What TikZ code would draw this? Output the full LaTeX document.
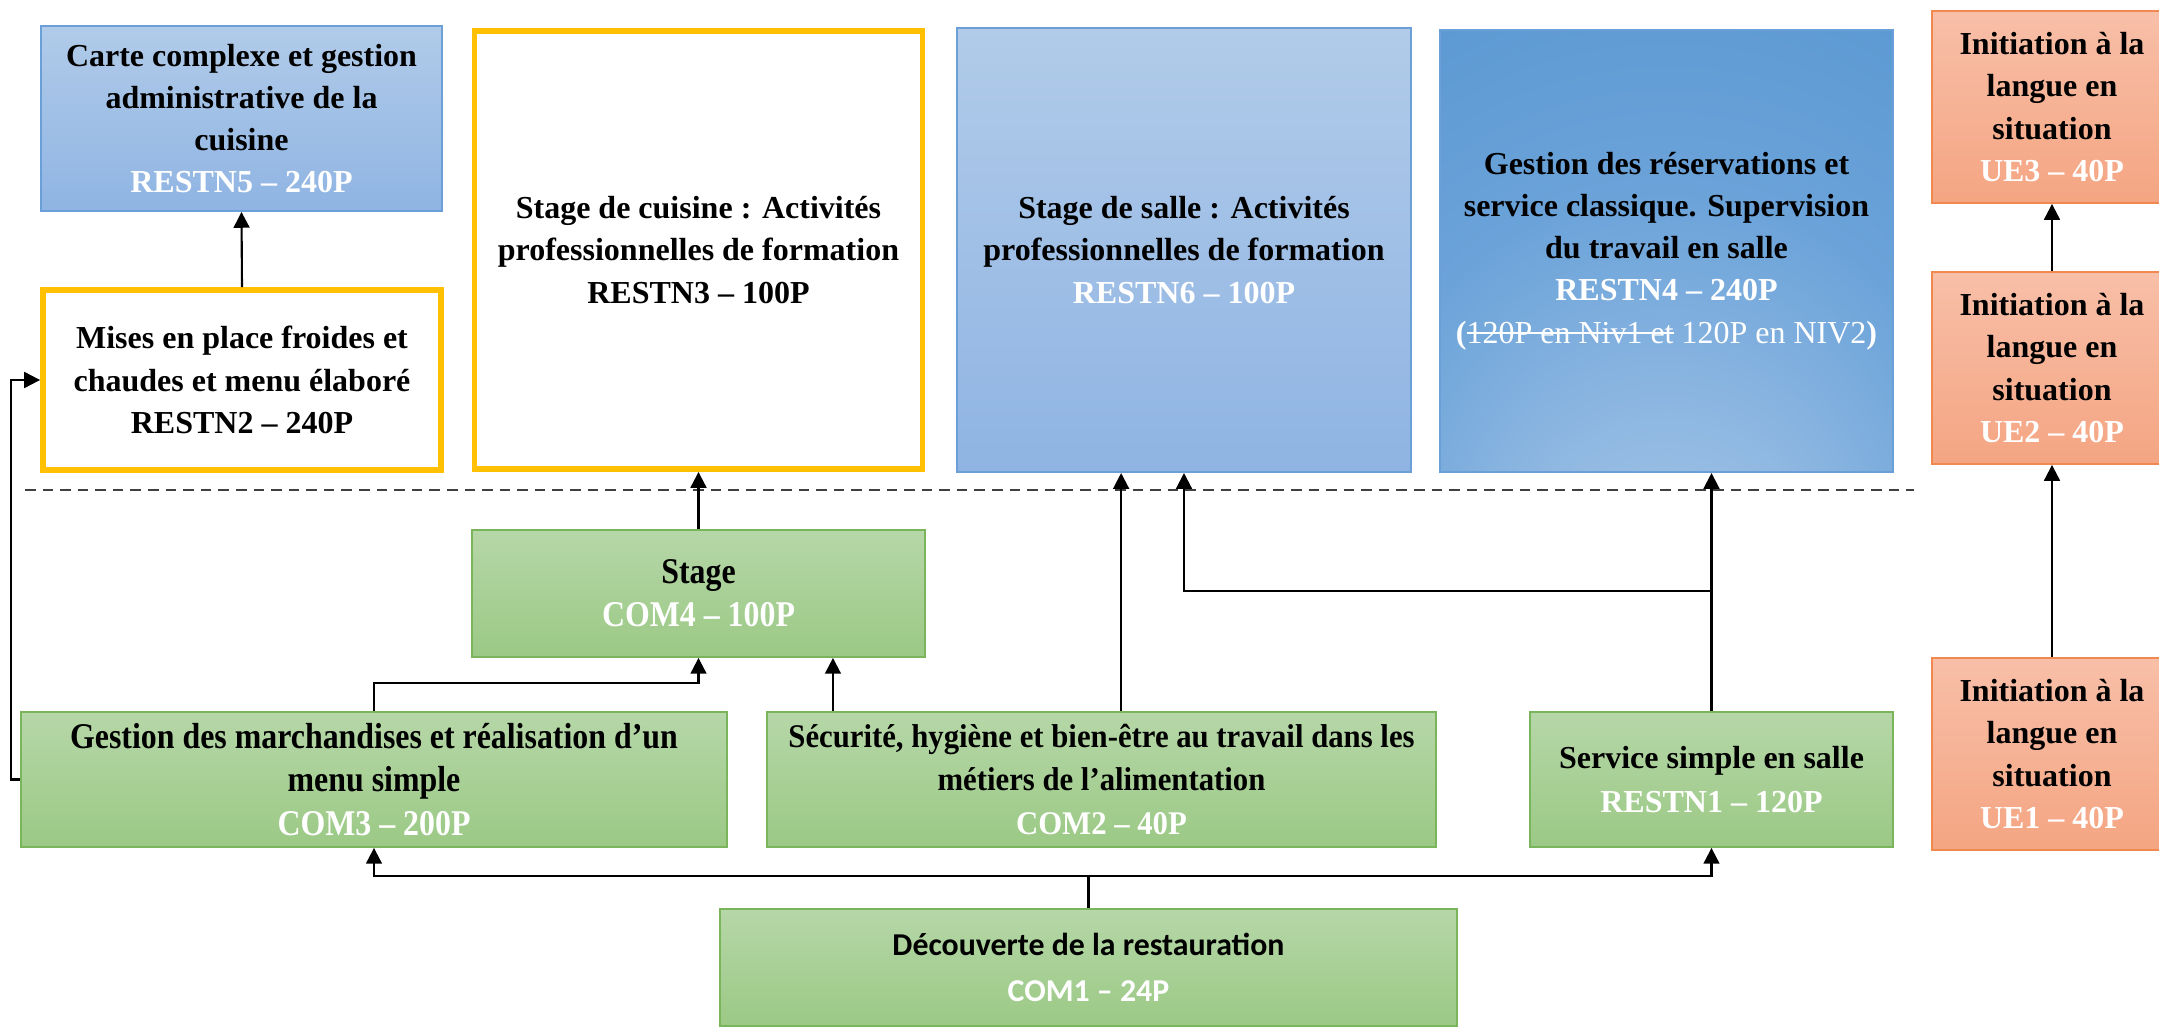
\documentclass[tikz,border=0pt]{standalone}
\usepackage{fontspec}
\setmainfont{Liberation Serif}
\newfontfamily\calib{Carlito}
\newfontfamily\narrowserif{Liberation Serif}[FakeStretch=0.88]
\newfontfamily\slimserif{Liberation Serif}[FakeStretch=0.93]
\usetikzlibrary{arrows.meta}
\definecolor{bluetop}{HTML}{B1CBE9}
\definecolor{bluebot}{HTML}{8FB4E3}
\definecolor{blueline}{HTML}{6A9FD8}
\definecolor{blueA}{HTML}{AFCBE9}
\definecolor{blueB}{HTML}{8CB6E1}
\definecolor{blueC}{HTML}{6BA3D9}
\definecolor{blueD}{HTML}{5E9AD3}
\definecolor{blueE}{HTML}{4F8BC8}
\definecolor{blueF}{HTML}{2C64A0}
\definecolor{greentop}{HTML}{B6D7A8}
\definecolor{greenbot}{HTML}{9BC985}
\definecolor{greenline}{HTML}{7AB55C}
\definecolor{orangetop}{HTML}{F8BFA8}
\definecolor{orangebot}{HTML}{F4A582}
\definecolor{orangeline}{HTML}{F0884F}
\definecolor{kitchen}{HTML}{FFC000}
\definecolor{sepgray}{HTML}{404040}
\pgfdeclareradialshading{salleglow}{\pgfpoint{0bp}{-45bp}}{color(0bp)=(blueA); color(18bp)=(blueB); color(33bp)=(blueC); color(48bp)=(blueD); color(58bp)=(blueE); color(68bp)=(blueF); color(80bp)=(blueF)}
\newcommand{\wh}[1]{{\color{white}#1}}
\newcommand{\barout}[1]{\setbox0\hbox{#1}\rlap{\rule[0.28em]{\wd0}{0.5pt}}\box0\relax}

\begin{document}
\begin{tikzpicture}[x=0.01cm, y=-0.01cm,
  box/.style={inner sep=0pt, align=center, font=\fontsize{9.1}{12}\selectfont\bfseries},
  blubox/.style={box, draw=blueline, line width=0.5pt, top color=bluetop, bottom color=bluebot},
  grnbox/.style={box, draw=greenline, line width=0.5pt, top color=greentop, bottom color=greenbot},
  orgbox/.style={box, draw=orangeline, line width=0.5pt, top color=orangetop, bottom color=orangebot, minimum width=2.40cm, minimum height=1.92cm},
  ylwbox/.style={box, draw=kitchen, line width=1.6pt, fill=white},
  arr/.style={-{Triangle[width=4.5pt,length=4.5pt]}, line width=0.6pt, black},
  sep/.style={dash pattern=on 3pt off 2pt, line width=0.6pt, sepgray}]
\useasboundingbox (0,0) rectangle (2159,1027);

\node[blubox, minimum width=4.01cm, minimum height=1.85cm] (restn5) at (241.5,118.5)
  {Carte complexe et gestion\\administrative de la\\cuisine\\\wh{RESTN5 – 240P}};
\node[ylwbox, minimum width=3.98cm, minimum height=1.80cm] (restn2) at (242,380)
  {Mises en place froides et\\chaudes et menu élaboré\\RESTN2 – 240P};
\node[ylwbox, minimum width=4.48cm, minimum height=4.38cm] (restn3) at (698.5,250)
  {Stage de cuisine : Activités\\professionnelles de formation\\RESTN3 – 100P};
\node[blubox, minimum width=4.54cm, minimum height=4.44cm] (restn6) at (1184,250)
  {Stage de salle : Activités\\professionnelles de formation\\\wh{RESTN6 – 100P}};
\node[box, draw=blueline, line width=0.5pt, shading=salleglow, minimum width=4.53cm, minimum height=4.42cm] (restn4) at (1666.5,251)
  {Gestion des réservations et\\service classique. Supervision\\du travail en salle\\\wh{RESTN4 – 240P}\\
   \wh{(\mdseries\barout{120P en Niv1 et} 120P en NIV2\bfseries)}};

\node[orgbox] (ue3) at (2052,107)
  {Initiation à la\\langue en\\situation\\\wh{UE3 – 40P}};
\node[orgbox] (ue2) at (2052,368)
  {Initiation à la\\langue en\\situation\\\wh{UE2 – 40P}};
\node[orgbox] (ue1) at (2052,754)
  {Initiation à la\\langue en\\situation\\\wh{UE1 – 40P}};

\draw[sep] (25,490) -- (1914,490);

\node[grnbox, minimum width=4.53cm, minimum height=1.27cm, font=\fontsize{10.3}{12.3}\selectfont\narrowserif\bfseries] (com4) at (698.5,593.5)
  {Stage\\\wh{COM4 – 100P}};
\node[grnbox, minimum width=7.06cm, minimum height=1.35cm, font=\fontsize{10.3}{12.3}\selectfont\narrowserif\bfseries] (com3) at (374,779.5)
  {Gestion des marchandises et réalisation d’un\\menu simple\\\wh{COM3 – 200P}};
\node[grnbox, minimum width=6.69cm, minimum height=1.35cm, font=\fontsize{9.4}{12.3}\selectfont\slimserif\bfseries] (com2) at (1101.5,779.5)
  {Sécurité, hygiène et bien-être au travail dans les\\métiers de l’alimentation\\\wh{COM2 – 40P}};
\node[grnbox, minimum width=3.63cm, minimum height=1.35cm, font=\fontsize{9.1}{12.6}\selectfont\bfseries] (restn1) at (1711.5,779.5)
  {Service simple en salle\\\wh{RESTN1 – 120P}};
\node[grnbox, minimum width=7.37cm, minimum height=1.17cm, font=\fontsize{9.05}{13}\selectfont\calib\bfseries] (com1) at (1088.5,967.5)
  {Découverte de la restauration\\\wh{COM1 – 24P}};

\draw[arr] (restn2.north) -- (restn5.south);
\draw[arr] (com3.west) -- ++(-9,0) |- (restn2.west);
\draw[arr] (com4.north) -- (restn3.south);
\draw[arr] (com3.north) -- ++(0,-28) -| (com4.south);
\draw[arr] ([xshift=0.67cm]com2.north west) -- ([xshift=0.67cm]com2.north west |- com4.south);
\draw[arr] ([xshift=3.55cm]com2.north west) -- ([xshift=3.55cm]com2.north west |- restn6.south);
\draw[arr] (restn1.north) -- (restn1.north |- restn4.south);
\draw[arr] ([yshift=1.2cm]restn1.north) -| (restn6.south);
\draw[arr] (com1.north) -- ++(0,-32) -| (com3.south);
\draw[arr] (com1.north) -- ++(0,-32) -| (restn1.south);
\draw[arr] (ue1.north) -- (ue2.south);
\draw[arr] (ue2.north) -- (ue3.south);
\end{tikzpicture}
\end{document}
